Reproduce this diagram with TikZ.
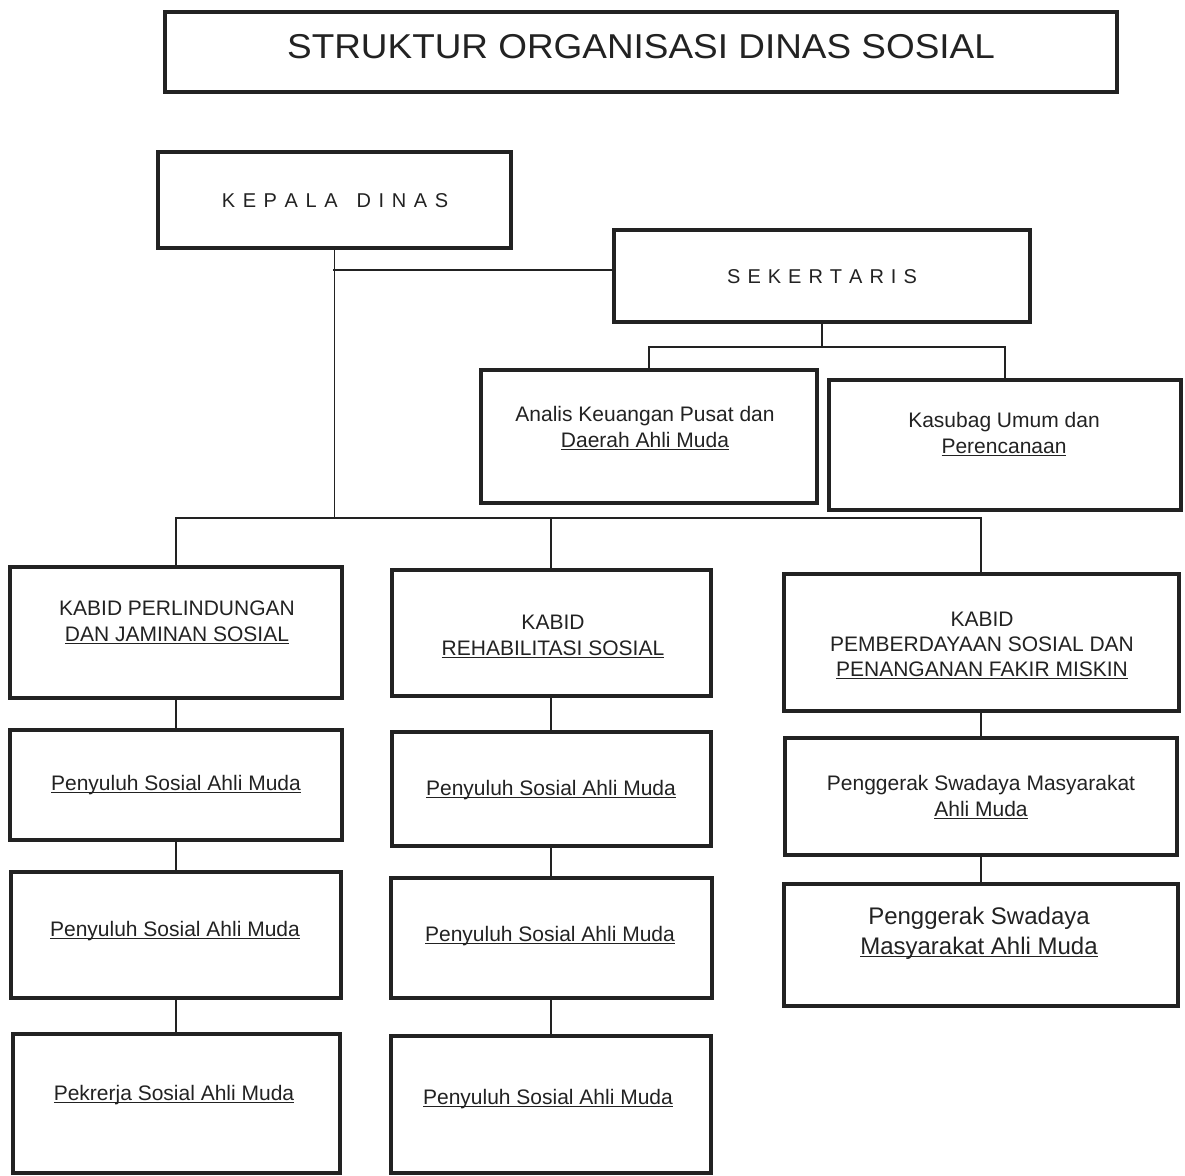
\documentclass[tikz,border=0pt]{standalone}
\usepackage{fontspec}
\usepackage{graphicx}
\setmainfont{Liberation Sans}
\newsavebox\ulbx
\newcommand\ulin[1]{\sbox\ulbx{#1}\rlap{\rule[-3pt]{\wd\ulbx}{1.1pt}}\usebox\ulbx}
\newcommand\lsp{\hspace{0.38em}}
\newcommand\lsq{\hspace{0.35em}}
\newcommand\stk[1]{\begin{tabular}[t]{@{}c@{}}#1\end{tabular}}
\definecolor{ink}{HTML}{222222}
\begin{document}
\begin{tikzpicture}[x=1pt,y=-1pt,
  box/.style={draw=ink,line width=4pt,inner sep=0,rectangle},
  txt/.style={inner sep=0,anchor=base,text=ink,font=\fontsize{21}{26}\selectfont},
  big/.style={inner sep=0,anchor=base,text=ink,font=\fontsize{24}{30}\selectfont},
  head/.style={inner sep=0,anchor=base,text=ink,font=\fontsize{20}{24}\selectfont},
  con/.style={draw=ink,line width=1.3pt}]
\useasboundingbox (0,0) rectangle (1185,1175);
% title
\node[box,minimum width=952,minimum height=80] (title) at (641,52) {};
\node[inner sep=0,anchor=base,text=ink,font=\fontsize{34.5}{42}\selectfont] (titlet) at (641,58) {\scalebox{1.07}[1]{STRUKTUR ORGANISASI DINAS SOSIAL}};
% kepala dinas
\node[box,minimum width=353,minimum height=96] (kd) at (334.5,200) {};
\node[head] (kdt) at (335,207) {K\lsp E\lsp P\lsp A\lsp L\lsp A\hspace{0.95em}D\lsp I\lsp N\lsp A\lsp S};
% sekertaris
\node[box,minimum width=416,minimum height=92] (sk) at (822,276) {};
\node[head] (skt) at (822,283) {S\lsq E\lsq K\lsq E\lsq R\lsq T\lsq A\lsq R\lsq I\lsq S};
% analis and kasubag
\node[box,minimum width=336,minimum height=133] (an) at (649,436.5) {};
\node[txt] (ant) at (645,421) {\stk{Analis Keuangan Pusat dan\\\ulin{Daerah Ahli Muda}}};
\node[box,minimum width=352,minimum height=130] (ks) at (1005,445) {};
\node[txt] (kst) at (1004,427) {\stk{Kasubag Umum dan\\\ulin{Perencanaan}}};
% column 1
\node[box,minimum width=332,minimum height=131] (k1) at (176,632.5) {};
\node[txt] (k1t) at (177,615) {\stk{KABID PERLINDUNGAN\\\ulin{DAN JAMINAN SOSIAL}}};
\node[box,minimum width=332,minimum height=110] (p11) at (176,785) {};
\node[txt] (p11t) at (176,790) {\ulin{Penyuluh Sosial Ahli Muda}};
\node[box,minimum width=330,minimum height=126] (p12) at (176,935) {};
\node[txt] (p12t) at (175,936) {\ulin{Penyuluh Sosial Ahli Muda}};
\node[box,minimum width=327,minimum height=139] (p13) at (176,1103.5) {};
\node[txt] (p13t) at (174,1100) {\ulin{Pekrerja Sosial Ahli Muda}};
% column 2
\node[box,minimum width=319,minimum height=126] (k2) at (551,633) {};
\node[txt] (k2t) at (553,629) {\stk{KABID\\\ulin{REHABILITASI SOSIAL}}};
\node[box,minimum width=319,minimum height=114] (p21) at (551,789) {};
\node[txt] (p21t) at (551,795) {\ulin{Penyuluh Sosial Ahli Muda}};
\node[box,minimum width=321,minimum height=120] (p22) at (551,938) {};
\node[txt] (p22t) at (550,941) {\ulin{Penyuluh Sosial Ahli Muda}};
\node[box,minimum width=320,minimum height=137] (p23) at (551,1104.5) {};
\node[txt] (p23t) at (548,1104) {\ulin{Penyuluh Sosial Ahli Muda}};
% column 3
\node[box,minimum width=395,minimum height=137] (k3) at (981,642.5) {};
\node[inner sep=0,anchor=base,text=ink,font=\fontsize{21}{25}\selectfont] (k3t) at (982,626) {\stk{KABID\\PEMBERDAYAAN SOSIAL DAN\\\ulin{PENANGANAN FAKIR MISKIN}}};
\node[box,minimum width=392,minimum height=117] (p31) at (981,796.5) {};
\node[txt] (p31t) at (981,790) {\stk{Penggerak Swadaya Masyarakat\\\ulin{Ahli Muda}}};
\node[box,minimum width=394,minimum height=122] (p32) at (981,945) {};
\node[big] (p32t) at (979,924) {\stk{Penggerak Swadaya\\\ulin{Masyarakat Ahli Muda}}};
% connectors
\coordinate (j1) at (333,270);
\coordinate (bus) at (333,518);
\coordinate (sb) at (822,347);
\draw[con] (kd.south) -- (kd.south |- bus);
\draw[con] (j1) -- (j1 -| sk.west);
\draw[con] (sk.south) -- (sk.south |- sb);
\draw[con] (an.north) -- (an.north |- sb) -- (ks.north |- sb) -- (ks.north);
\draw[con] (k1.north) -- (k1.north |- bus) -- (k3.north |- bus) -- (k3.north);
\draw[con] (k2.north) -- (k2.north |- bus);
\draw[con] (k1.south) -- (p11.north);
\draw[con] (p11.south) -- (p12.north);
\draw[con] (p12.south) -- (p13.north);
\draw[con] (k2.south) -- (p21.north);
\draw[con] (p21.south) -- (p22.north);
\draw[con] (p22.south) -- (p23.north);
\draw[con] (k3.south) -- (p31.north);
\draw[con] (p31.south) -- (p32.north);
\end{tikzpicture}
\end{document}
